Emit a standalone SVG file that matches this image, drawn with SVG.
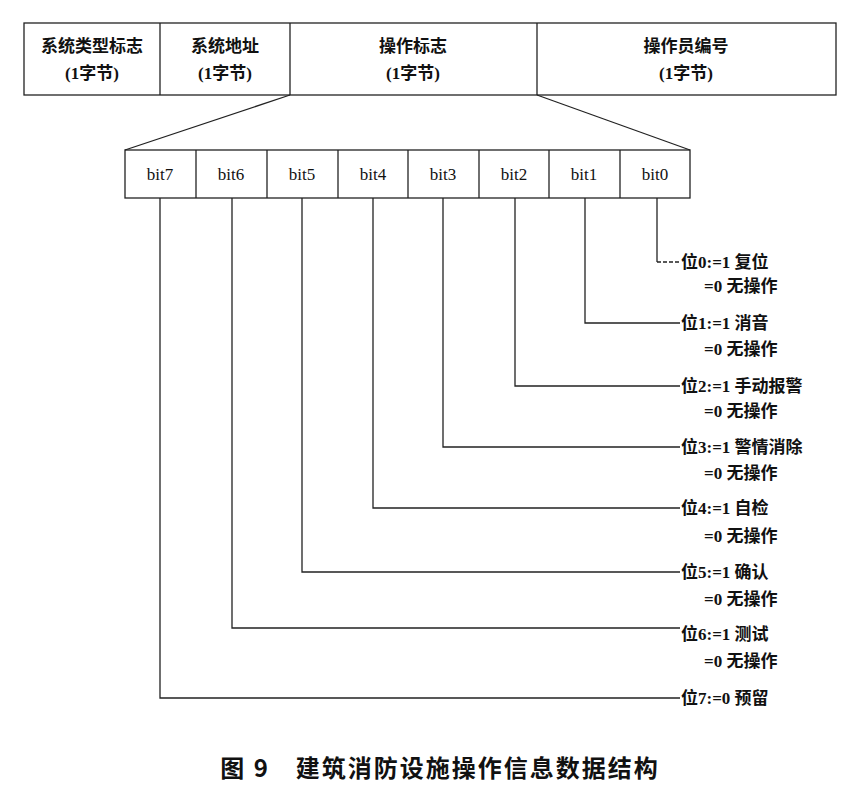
<svg xmlns="http://www.w3.org/2000/svg" width="865" height="796" viewBox="0 0 865 796">
<style>
.b{fill:none;stroke:#222;stroke-width:1.3}
.t{font-family:"Liberation Serif","Noto Sans CJK SC",serif;font-size:17px;fill:#111;font-weight:bold}
.n{font-weight:normal}
.c{text-anchor:middle}
.w{stroke:#222;stroke-width:1.3;fill:none}
</style>
<rect width="865" height="796" fill="#fff"/>
<g id="header">
<rect class="b" x="24" y="23" width="812" height="72"/>
<line class="w" x1="160" y1="23" x2="160" y2="95"/>
<line class="w" x1="290" y1="23" x2="290" y2="95"/>
<line class="w" x1="537" y1="23" x2="537" y2="95"/>
<text class="t c" x="92" y="52">系统类型标志</text><text class="t c" x="92" y="79">(1字节)</text>
<text class="t c" x="225" y="52">系统地址</text><text class="t c" x="225" y="79">(1字节)</text>
<text class="t c" x="413" y="52">操作标志</text><text class="t c" x="413" y="79">(1字节)</text>
<text class="t c" x="686" y="52">操作员编号</text><text class="t c" x="686" y="79">(1字节)</text>
</g>
<g id="bits">
<rect class="b" x="125" y="150" width="565" height="48"/>
<line class="w" x1="196" y1="150" x2="196" y2="198"/><line class="w" x1="267" y1="150" x2="267" y2="198"/>
<line class="w" x1="338" y1="150" x2="338" y2="198"/><line class="w" x1="408" y1="150" x2="408" y2="198"/>
<line class="w" x1="479" y1="150" x2="479" y2="198"/><line class="w" x1="549" y1="150" x2="549" y2="198"/>
<line class="w" x1="620" y1="150" x2="620" y2="198"/>
<text class="t n c" x="160" y="180">bit7</text><text class="t n c" x="231" y="180">bit6</text>
<text class="t n c" x="302" y="180">bit5</text><text class="t n c" x="373" y="180">bit4</text>
<text class="t n c" x="443" y="180">bit3</text><text class="t n c" x="514" y="180">bit2</text>
<text class="t n c" x="584" y="180">bit1</text><text class="t n c" x="655" y="180">bit0</text>
</g>
<g id="connectors">
<line class="w" x1="290" y1="95" x2="125" y2="150"/>
<line class="w" x1="537" y1="95" x2="690" y2="150"/>
<line class="w" x1="657" y1="198" x2="657" y2="262"/>
<line class="w" x1="657" y1="262" x2="680" y2="262" stroke-dasharray="4,2"/>
<polyline class="w" points="585,198 585,323 680,323"/>
<polyline class="w" points="515,198 515,386 680,386"/>
<polyline class="w" points="443,198 443,447 680,447"/>
<polyline class="w" points="373,198 373,508 680,508"/>
<polyline class="w" points="302,198 302,572 680,572"/>
<polyline class="w" points="232,198 232,628 680,628"/>
<polyline class="w" points="160,198 160,698 680,698"/>
</g>
<g id="labels">
<text class="t" x="681" y="268">位0:=1 复位</text><text class="t" x="704" y="292">=0 无操作</text>
<text class="t" x="681" y="329">位1:=1 消音</text><text class="t" x="704" y="355">=0 无操作</text>
<text class="t" x="681" y="392">位2:=1 手动报警</text><text class="t" x="704" y="417">=0 无操作</text>
<text class="t" x="681" y="453">位3:=1 警情消除</text><text class="t" x="704" y="479">=0 无操作</text>
<text class="t" x="681" y="514">位4:=1 自检</text><text class="t" x="704" y="542">=0 无操作</text>
<text class="t" x="681" y="578">位5:=1 确认</text><text class="t" x="704" y="605">=0 无操作</text>
<text class="t" x="681" y="640">位6:=1 测试</text><text class="t" x="704" y="667">=0 无操作</text>
<text class="t" x="681" y="704">位7:=0 预留</text>
</g>
<text x="440" y="777" text-anchor="middle" font-family="Noto Sans CJK SC,sans-serif" font-size="24" font-weight="bold" letter-spacing="2" fill="#111">图 9　建筑消防设施操作信息数据结构</text>
</svg>
